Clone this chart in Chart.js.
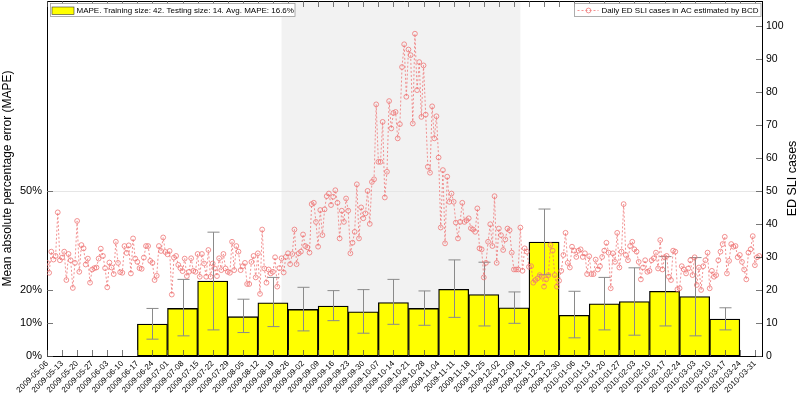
<!DOCTYPE html>
<html>
<head>
<meta charset="utf-8">
<script src="https://cdn.jsdelivr.net/npm/chart.js@4/dist/chart.umd.min.js"></script>
<style>
  html, body { margin: 0; padding: 0; background: #ffffff; }
  #wrap { position: relative; width: 800px; height: 394px; }
</style>
</head>
<body>
<div id="wrap"><canvas id="c" width="800" height="394"></canvas></div>
<script>
// ---------------- data ----------------
const weekLabels = [
  '2009-05-06','2009-05-13','2009-05-20','2009-05-27','2009-06-03','2009-06-10','2009-06-17','2009-06-24',
  '2009-07-01','2009-07-08','2009-07-15','2009-07-22','2009-07-29','2009-08-05','2009-08-12','2009-08-19',
  '2009-08-26','2009-09-02','2009-09-09','2009-09-16','2009-09-23','2009-09-30','2009-10-07','2009-10-14',
  '2009-10-21','2009-10-28','2009-11-04','2009-11-11','2009-11-18','2009-11-25','2009-12-02','2009-12-09',
  '2009-12-16','2009-12-23','2009-12-30','2010-01-06','2010-01-13','2010-01-20','2010-01-27','2010-02-03',
  '2010-02-10','2010-02-17','2010-02-24','2010-03-03','2010-03-10','2010-03-17','2010-03-24','2010-03-31'
];

// testing windows (14 days each), start dates
const windowStarts = [
  '2009-06-17','2009-07-01','2009-07-15','2009-07-29','2009-08-12','2009-08-26','2009-09-09','2009-09-23',
  '2009-10-07','2009-10-21','2009-11-04','2009-11-18','2009-12-02','2009-12-16','2009-12-30','2010-01-13',
  '2010-01-27','2010-02-10','2010-02-24','2010-03-10'
];
const testingDays = 14;

// MAPE per testing window (%)
const mape    = [9.7, 14.4, 22.7, 11.9, 16.1, 14.1, 15.1, 13.4, 16.2, 14.4, 20.2, 18.6, 14.6, 34.5, 12.3, 15.8, 16.5, 19.6, 18.0, 11.2];
const errLow  = [5.1, 6.1, 7.9, 7.1, 8.9, 7.6, 10.7, 6.9, 9.6, 9.3, 11.7, 9.1, 9.9, 24.6, 5.5, 7.9, 6.3, 9.1, 6.1, 7.9];
const errHigh = [14.4, 23.2, 37.5, 17.2, 23.8, 20.8, 19.8, 20.1, 23.2, 19.7, 29.1, 28.4, 19.4, 44.5, 19.6, 23.8, 26.7, 30.1, 29.8, 14.6];

// daily ED SLI cases, starting 2009-05-06
const dailyCases = [
  28.2, 25.2, 31.6, 29.2, 30.3, 43.5, 29, 29.8, 31.6, 23,
  30.9, 29, 20.6, 28.2, 40.9, 25.5, 33.6, 32.6, 27.7, 29.5,
  22.2, 26.2, 26.6, 26.8, 29.5, 32.5, 30.3, 26.6, 20.8, 28.3,
  26.8, 24.8, 34.6, 28.2, 25.4, 25.2, 33.3, 31.2, 33.5, 25,
  35.6, 29.5, 28.5, 26.6, 26.4, 29.8, 33.3, 33.3, 28.8, 28.2,
  23, 24.3, 33.3, 31.8, 35.9, 31.5, 30.8, 31.8, 18.6, 29.8,
  30.3, 27.6, 26.6, 25.7, 29.5,
  24.2, 25.5, 29.6, 25.8, 25.5, 30.9, 24, 30.9, 28, 24,
  32.1, 24, 28, 26.5, 24.2, 29.6, 26, 30.9, 26.5, 25.5,
  25.2, 34.6, 26, 33.3, 31.6, 26, 27.2, 28.2, 21.8, 21.8,
  28.5, 30.3, 23.8, 31.1, 18.8, 38.3, 26.5, 22.2, 26.2, 25,
  25.5, 29.9, 21, 26.6, 29.6, 25.3, 30, 31.1, 27.8, 30.9,
  38.3, 27.8, 31.1, 31.6, 36.8, 33.3, 32.9, 31.3, 46, 46.4,
  40.6, 33.1, 44.2, 36.6, 44.4, 48.4, 49.2, 45.7,
  48.2, 50.2, 46.4, 35.6, 44, 40.6, 47.7, 44, 31.1, 34.3,
  37.6, 52, 35.6, 45, 41.7, 43.2, 50, 40, 52.7, 53.5,
  76.2, 58.8, 58.8, 70.9, 48, 55.8, 77.2, 68.9, 73.6, 73.9,
  65.9, 70.2, 87.5, 94.4, 78.5, 92.8, 91.1, 70.4, 97.6, 80.5,
  89, 72.4, 88, 73.1, 57.3, 55.5, 75.6, 65.9, 72.6, 60.1,
  38.9, 56.3, 34.1, 54.3, 46.7, 49.2, 46.7, 40.4, 35.6, 40.6,
  46.4, 40.6, 41.1, 41.7, 38.7,
  38.3, 37.6, 44.7, 32.6, 32.3, 23.8, 28.2, 34.6, 39.9, 33.3,
  48.4, 28.2, 38.6, 36.6, 32.1, 35.3, 38.6, 38.1, 31.3, 26.2,
  26.2, 26.2, 38.9, 25.8, 32.6, 31.6, 27, 27.2, 22.2, 23,
  23.5, 24.5, 24, 21, 23.2, 24.5, 33.6, 31.9, 24.5, 21,
  22.8, 25.8, 30.6, 37.3, 28.2, 26.8, 33.1, 31.9, 30, 31.9,
  32.3, 30, 31.1, 24.8, 30.2, 24.8, 24.8, 29.2, 26.2, 27.2,
  30, 31.9, 34.3, 31.3, 20.5, 31.1, 28.5,
  37.3, 26.8, 31.6, 46, 30.6, 29, 33.3, 34.6, 32.3, 31.6,
  28.5, 23.2, 26.8, 29, 25.5, 25.8, 29, 29.6, 31.3, 26.5,
  35.1, 26.2, 29.9, 30.3, 24, 23, 31.9, 31.6, 20.2, 20.5,
  27.2, 26.2, 25, 26.5, 29, 24.5, 29.9, 21.5, 26.8, 20,
  27.2, 29, 31.3, 20.5, 25.8, 24, 24.5, 29, 31.6, 33.9,
  36.1, 25, 28.8, 33.9, 33.1, 33.3, 29.9, 30.6, 28.5, 26.2,
  23.2, 31.3, 32.3, 36.3, 27.5, 29.9, 30.3
];

const mapeTicks = [0, 10, 20, 50];
const caseTicks = [0, 10, 20, 30, 40, 50, 60, 70, 80, 90, 100];
const refLine = 50;                    // reference line on the MAPE axis
const shadeFrom = '2009-08-23';        // shaded epidemic period
const shadeTo   = '2009-12-12';
const legendMape  = 'MAPE. Training size: 42. Testing size: 14. Avg. MAPE: 16.6%';
const legendCases = 'Daily ED SLI cases in AC estimated by BCD';
const leftTitle  = 'Mean absolute percentage error (MAPE)';
const rightTitle = 'ED SLI cases';

// ---------------- helpers ----------------
const DAY0 = Date.UTC(2009, 4, 6);
const dayOf = s => { const p = s.split('-').map(Number); return (Date.UTC(p[0], p[1] - 1, p[2]) - DAY0) / 86400000; };

const FONT = "'Liberation Sans', Arial, Helvetica, sans-serif";
Chart.defaults.font.family = FONT;
Chart.defaults.color = '#000';

const barPoints = windowStarts.map((s, i) => ({ x: dayOf(s) + testingDays / 2, y: mape[i] }));
const linePoints = dailyCases.map((v, i) => ({ x: i, y: v }));
const CASE_RED = '#ef7676';

const noVPad = s => { s.paddingTop = 0; s.paddingBottom = 0; };

const decor = {
  id: 'decor',
  beforeDatasetsDraw(chart) {
    const { ctx, chartArea: a, scales: { x, yL } } = chart;
    ctx.save();
    const x0 = x.getPixelForValue(dayOf(shadeFrom));
    const x1 = x.getPixelForValue(dayOf(shadeTo));
    ctx.fillStyle = '#f2f2f2';
    ctx.fillRect(x0, a.top, x1 - x0, a.bottom - a.top);
    const y50 = Math.round(yL.getPixelForValue(refLine)) + 0.5;
    ctx.strokeStyle = '#e6e6e6';
    ctx.lineWidth = 1;
    ctx.beginPath(); ctx.moveTo(a.left, y50); ctx.lineTo(a.right, y50); ctx.stroke();
    ctx.restore();
  },
  afterDatasetDraw(chart, args) {
    if (args.index !== 0) return;
    const { ctx, scales: { yL } } = chart;
    const meta = chart.getDatasetMeta(0);
    ctx.save();
    ctx.strokeStyle = '#8a8a8a';
    ctx.lineWidth = 1;
    meta.data.forEach((bar, i) => {
      const cx = Math.round(bar.x) + 0.5;
      const lo = yL.getPixelForValue(errLow[i]);
      const hi = yL.getPixelForValue(errHigh[i]);
      const half = bar.width * 0.2;
      ctx.beginPath();
      ctx.moveTo(cx, lo); ctx.lineTo(cx, hi);
      ctx.moveTo(cx - half, lo); ctx.lineTo(cx + half, lo);
      ctx.moveTo(cx - half, hi); ctx.lineTo(cx + half, hi);
      ctx.stroke();
    });
    ctx.restore();
  },
  afterDraw(chart) {
    const { ctx, chartArea: a, scales: { x, yL, yR } } = chart;
    ctx.save();
    // frame top line
    ctx.strokeStyle = '#000';
    ctx.lineWidth = 1;
    ctx.beginPath(); ctx.moveTo(a.left, a.top + 0.5); ctx.lineTo(a.right, a.top + 0.5); ctx.stroke();
    // inward tick marks
    const TL = 6;
    ctx.strokeStyle = '#555';
    ctx.lineWidth = 0.8;
    ctx.beginPath();
    x.ticks.forEach(t => {
      const px = Math.round(x.getPixelForValue(t.value)) + 0.5;
      ctx.moveTo(px, a.bottom); ctx.lineTo(px, a.bottom - TL);
      ctx.moveTo(px, a.top); ctx.lineTo(px, a.top + TL);
    });
    yL.ticks.forEach(t => {
      const py = Math.round(yL.getPixelForValue(t.value)) + 0.5;
      ctx.moveTo(a.left, py); ctx.lineTo(a.left + TL, py);
    });
    yR.ticks.forEach(t => {
      const py = Math.round(yR.getPixelForValue(t.value)) + 0.5;
      ctx.moveTo(a.right, py); ctx.lineTo(a.right - TL, py);
    });
    ctx.stroke();

    // right axis title, reading bottom-to-top
    ctx.fillStyle = '#000';
    ctx.font = '12.5px ' + FONT;
    ctx.textAlign = 'center';
    ctx.textBaseline = 'middle';
    ctx.save();
    ctx.translate(793, (a.top + a.bottom) / 2);
    ctx.rotate(-Math.PI / 2);
    ctx.fillText(rightTitle, 0, 0);
    ctx.restore();

    // legends
    ctx.font = '8px ' + FONT;
    ctx.textAlign = 'left';
    ctx.textBaseline = 'middle';
    // left legend (bars)
    ctx.fillStyle = '#fff';
    ctx.fillRect(50.5, 3.5, 244.5, 13);
    ctx.strokeStyle = '#9a9a9a'; ctx.lineWidth = 0.8;
    ctx.strokeRect(50.5, 3.5, 244.5, 13);
    ctx.fillStyle = '#ffff00';
    ctx.fillRect(52, 7, 22, 7.5);
    ctx.strokeStyle = '#333'; ctx.lineWidth = 0.6;
    ctx.strokeRect(52, 7, 22, 7.5);
    ctx.fillStyle = '#000';
    ctx.fillText(chart.data.datasets[0].label, 76.5, 10.5);
    // right legend (line)
    ctx.fillStyle = '#fff';
    ctx.fillRect(574.5, 3.5, 186.5, 13);
    ctx.strokeStyle = '#9a9a9a'; ctx.lineWidth = 0.8;
    ctx.strokeRect(574.5, 3.5, 186.5, 13);
    ctx.strokeStyle = CASE_RED; ctx.lineWidth = 0.8;
    ctx.setLineDash([2, 2]);
    ctx.beginPath(); ctx.moveTo(577.5, 10.5); ctx.lineTo(598.5, 10.5); ctx.stroke();
    ctx.setLineDash([]);
    ctx.beginPath(); ctx.arc(588.5, 10.5, 2.4, 0, Math.PI * 2); ctx.stroke();
    ctx.fillStyle = '#000';
    ctx.fillText(chart.data.datasets[1].label, 601.5, 10.5);
    ctx.restore();
  }
};

new Chart(document.getElementById('c').getContext('2d'), {
  type: 'bar',
  data: {
    datasets: [
      {
        type: 'bar', label: legendMape, data: barPoints, xAxisID: 'x', yAxisID: 'yL',
        backgroundColor: '#ffff00', borderColor: '#000', borderWidth: 1.3, borderSkipped: false,
        barThickness: 'flex', categoryPercentage: 1, barPercentage: 1, order: 2
      },
      {
        type: 'line', label: legendCases, data: linePoints, xAxisID: 'x', yAxisID: 'yR',
        borderColor: CASE_RED, borderWidth: 0.8, borderDash: [2, 2], tension: 0, fill: false,
        pointRadius: 2.4, pointBorderWidth: 0.8, pointBorderColor: CASE_RED,
        pointBackgroundColor: 'rgba(0,0,0,0)', order: 1
      }
    ]
  },
  options: {
    responsive: false, animation: false, events: [],
    layout: { autoPadding: false, padding: { top: 1, left: 0, right: 0, bottom: 0 } },
    plugins: { legend: { display: false }, tooltip: { enabled: false }, title: { display: false } },
    scales: {
      x: {
        type: 'linear', position: 'bottom', min: 0, max: 332.3, offset: false,
        grid: { display: false, drawTicks: false },
        border: { display: true, color: '#000', width: 1 },
        afterBuildTicks: s => { s.ticks = weekLabels.map((_, i) => ({ value: dayOf(weekLabels[i]) })); },
        ticks: { autoSkip: false, minRotation: 45, maxRotation: 45, padding: 3, font: { size: 8 },
                 callback: (v, i) => weekLabels[i] },
        afterFit: s => { s.height = 38; s.paddingLeft = 0; s.paddingRight = 0; }
      },
      yL: {
        type: 'linear', position: 'left', min: 0, max: 107.5,
        grid: { display: false, drawTicks: false },
        border: { display: true, color: '#000', width: 1 },
        afterBuildTicks: s => { s.ticks = mapeTicks.map(v => ({ value: v })); },
        ticks: { padding: 5, font: { size: 11 }, callback: v => v + '%' },
        title: { display: true, text: leftTitle, font: { size: 12 }, padding: { top: 0, bottom: 0 } },
        afterFit: s => { s.width = 47; noVPad(s); }
      },
      yR: {
        type: 'linear', position: 'right', min: 0, max: 107.5,
        grid: { display: false, drawTicks: false },
        border: { display: true, color: '#000', width: 1 },
        afterBuildTicks: s => { s.ticks = caseTicks.map(v => ({ value: v })); },
        ticks: { padding: 4, font: { size: 10.5 } },
        afterFit: s => { s.width = 38; noVPad(s); }
      }
    }
  },
  plugins: [decor]
});
</script>
</body>
</html>
